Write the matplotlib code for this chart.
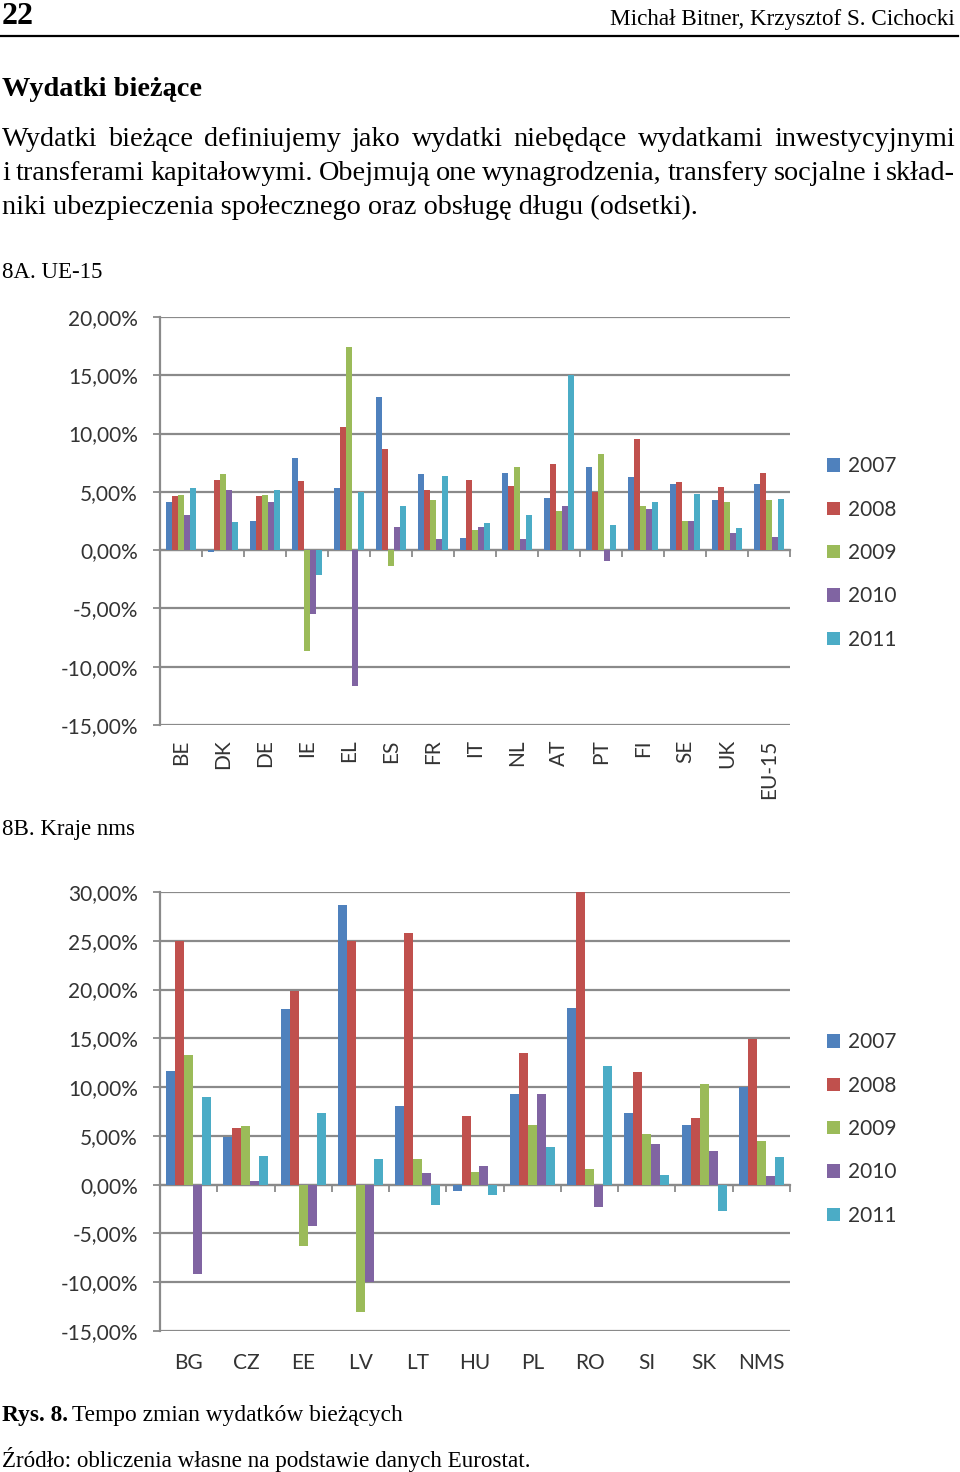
import matplotlib.pyplot as plt
import matplotlib.ticker as mticker
import numpy as np

# ---- data ----
years = ['2007', '2008', '2009', '2010', '2011']
colors = ['#4F81BD', '#C0504D', '#9BBB59', '#8064A2', '#4BACC6']

ue15_countries = ['BE', 'DK', 'DE', 'IE', 'EL', 'ES', 'FR', 'IT', 'NL', 'AT',
                  'PT', 'FI', 'SE', 'UK', 'EU-15']
ue15_2007 = [4.14, -0.15, 2.51, 7.94, 5.29, 13.17, 6.51, 1.00, 6.66, 4.51, 7.14, 6.29, 5.71, 4.29, 5.71]
ue15_2008 = [4.66, 6.06, 4.66, 5.89, 10.57, 8.66, 5.14, 6.03, 5.54, 7.40, 5.00, 9.54, 5.83, 5.40, 6.66]
ue15_2009 = [4.74, 6.54, 4.74, -8.63, 17.46, -1.34, 4.26, 1.74, 7.14, 3.37, 8.29, 3.77, 2.51, 4.17, 4.26]
ue15_2010 = [3.03, 5.14, 4.14, -5.49, -11.63, 2.00, 0.97, 2.00, 0.97, 3.77, -0.97, 3.51, 2.51, 1.51, 1.11]
ue15_2011 = [5.29, 2.43, 5.14, -2.14, 4.97, 3.77, 6.40, 2.29, 3.03, 15.00, 2.14, 4.14, 4.80, 1.89, 4.40]

nms_countries = ['BG', 'CZ', 'EE', 'LV', 'LT', 'HU', 'PL', 'RO', 'SI', 'SK', 'NMS']
nms_2007 = [11.68, 4.89, 17.97, 28.63, 8.06, -0.61, 9.26, 18.14, 7.31, 6.12, 9.98]
nms_2008 = [25.00, 5.81, 19.82, 24.94, 25.80, 7.04, 13.50, 30.00, 11.55, 6.87, 14.90]
nms_2009 = [13.32, 5.98, -6.32, -13.05, 2.66, 1.30, 6.12, 1.60, 5.19, 10.32, 4.44]
nms_2010 = [-9.16, 0.41, -4.20, -9.98, 1.16, 1.95, 9.26, -2.29, 4.17, 3.42, 0.85]
nms_2011 = [8.95, 2.97, 7.35, 2.66, -2.12, -1.06, 3.86, 12.13, 1.02, -2.73, 2.84]

W, H = 960, 1472
fig = plt.figure(figsize=(W / 100, H / 100), dpi=100)

SERIF = 'Liberation Serif'
SANS = 'Lato'
GRID = '#8a8a8a'
TXT = '#333333'


def fx(px):
    return px / W


def fy(py):
    return 1 - py / H


def ptext(x, y, s, **kw):
    return fig.text(fx(x), fy(y), s, **kw)


def justified(words_line, y, x0, x1, size):
    words = words_line.split(' ')
    objs = [ptext(x0, y, w, family=SERIF, fontsize=size, va='center', ha='left') for w in words]
    r = fig.canvas.get_renderer()
    widths = [o.get_window_extent(r).width for o in objs]
    gap = (x1 - x0 - sum(widths)) / (len(words) - 1)
    x = x0
    for o, w in zip(objs, widths):
        o.set_x(fx(x))
        x += w + gap


# ---- page text ----
ptext(2, 17, '22', family=SERIF, fontsize=23, fontweight='bold', va='center')
ptext(955, 19, 'Michał Bitner, Krzysztof S. Cichocki', family=SERIF, fontsize=16.7,
      va='center', ha='right')
fig.add_artist(plt.Line2D([0, fx(958)], [fy(36), fy(36)], color='black', lw=1.6))
ptext(2, 90, 'Wydatki bieżące', family=SERIF, fontsize=20.4, fontweight='bold', va='center')
justified('Wydatki bieżące definiujemy jako wydatki niebędące wydatkami inwestycyjnymi', 139, 2, 955, 20.3)
justified('i transferami kapitałowymi. Obejmują one wynagrodzenia, transfery socjalne i skład-', 173, 2, 955, 20.3)
ptext(2, 207, 'niki ubezpieczenia społecznego oraz obsługę długu (odsetki).', family=SERIF,
      fontsize=20.3, va='center')
ptext(2, 273, '8A. UE-15', family=SERIF, fontsize=16.5, va='center')
ptext(2, 830, '8B. Kraje nms', family=SERIF, fontsize=16.5, va='center')
t = ptext(2, 1415, 'Rys. 8.', family=SERIF, fontsize=16.8, fontweight='bold', va='center')
r = fig.canvas.get_renderer()
wb = t.get_window_extent(r).width
ptext(2 + wb + 4, 1415, 'Tempo zmian wydatków bieżących', family=SERIF, fontsize=16.8, va='center')
ptext(2, 1459, 'Źródło: obliczenia własne na podstawie danych Eurostat.', family=SERIF,
      fontsize=16.7, va='center')


def bar_chart(rect, cats, series, ylim, width, rotate, legend_top):
    left, top, right, bottom = rect
    ax = fig.add_axes([fx(left), fy(bottom), fx(right - left), (bottom - top) / H])
    n = len(cats)
    x = np.arange(n)
    conts = []
    for j, (vals, c, lab) in enumerate(zip(series, colors, years)):
        conts.append(ax.bar(x + (j - 2) * width, vals, width=width, color=c, label=lab, zorder=3))
    ax.set_xlim(-0.5, n - 0.5)
    ax.set_ylim(*ylim)
    ax.yaxis.set_major_locator(mticker.MultipleLocator(5))
    ax.yaxis.set_major_formatter(mticker.FuncFormatter(lambda v, p: f'{v:.2f}%'.replace('.', ',')))
    ax.yaxis.grid(True, color=GRID, lw=1.6, zorder=0)
    for s in ['top', 'right']:
        ax.spines[s].set_visible(False)
    ax.spines['left'].set_color(GRID)
    ax.spines['left'].set_linewidth(1.6)
    ax.spines['bottom'].set_position(('data', 0))
    ax.spines['bottom'].set_color(GRID)
    ax.spines['bottom'].set_linewidth(1.6)
    ax.tick_params(axis='y', colors=GRID, labelcolor=TXT, labelsize=15, length=5, width=1.3,
                   pad=11)
    for lbl in ax.get_yticklabels():
        lbl.set_family(SANS)
    ax.set_xticks(x)
    ax.set_xticks(np.arange(n + 1) - 0.5, minor=True)
    ax.tick_params(axis='x', which='major', length=0, labelbottom=False)
    ax.tick_params(axis='x', which='minor', length=5, width=1.3, color=GRID)
    tr = ax.get_xaxis_transform()
    for i, c in enumerate(cats):
        if rotate:
            ax.text(i, -0.035, c, transform=tr, rotation=90, ha='center', va='top',
                    family=SANS, fontsize=15, color=TXT)
        else:
            ax.text(i, -0.072, c, transform=tr, ha='center', va='center',
                    family=SANS, fontsize=15, color=TXT)
    fig.legend(handles=conts, labels=years, loc='upper left',
               bbox_to_anchor=(fx(817), fy(legend_top)),
               frameon=False, prop={'family': SANS, 'size': 15},
               handlelength=0.6, handleheight=0.6, handletextpad=0.4,
               labelspacing=1.12, borderpad=0, labelcolor=TXT)
    return ax


bar_chart((160, 317, 790, 725), ue15_countries,
          [ue15_2007, ue15_2008, ue15_2009, ue15_2010, ue15_2011],
          (-15, 20), 0.143, True, 446)
bar_chart((160, 892, 790, 1331), nms_countries,
          [nms_2007, nms_2008, nms_2009, nms_2010, nms_2011],
          (-15, 30), 0.157, False, 1022)

fig.savefig('out.png', dpi=100)
